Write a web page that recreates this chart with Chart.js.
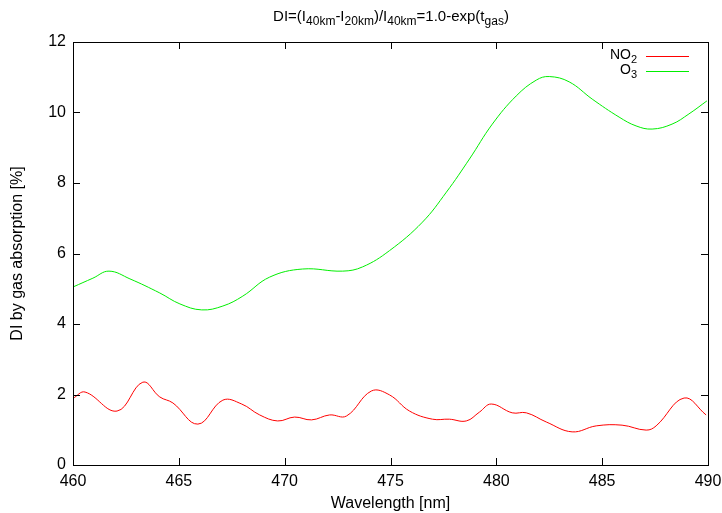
<!DOCTYPE html>
<html>
<head>
<meta charset="utf-8">
<script src="https://cdn.jsdelivr.net/npm/chart.js@4/dist/chart.umd.min.js"></script>
<style>
  body { margin: 0; background: #fff; font-family: "Liberation Sans", Arial, sans-serif; }
  #wrap { position: relative; width: 722px; height: 513px; }
  #title { position: absolute; left: 0; width: 782px; top: 7px; text-align: center; font-size: 15px; color: #000; }
  #title sub { font-size: 12px; vertical-align: -4px; line-height: 0; }
  .key { position: absolute; right: 85px; font-size: 14px; color: #000; text-align: right; line-height: 16px; }
  .key sub { font-size: 11px; vertical-align: -4px; line-height: 0; }
  .swatch { position: absolute; left: 646px; width: 43px; height: 1px; }
</style>
</head>
<body>
<div id="wrap">
  <canvas id="chart" width="722" height="513"></canvas>
  <div id="title">DI=(I<sub>40km</sub>-I<sub>20km</sub>)/I<sub>40km</sub>=1.0-exp(t<sub>gas</sub>)</div>
  <div class="key" style="top:46px">NO<sub>2</sub></div>
  <div class="swatch" style="top:56px;background:#ff0000"></div>
  <div class="key" style="top:61px">O<sub>3</sub></div>
  <div class="swatch" style="top:71px;background:#00ee00"></div>
</div>
<script>
// values
const no2Wavelength = [460.0, 460.57, 462.08, 463.30, 464.10, 464.72, 465.90, 467.08, 467.97, 468.82,
  469.67, 470.47, 471.27, 472.12, 472.92, 474.10, 474.95, 475.90, 476.98, 477.78, 478.58, 479.20,
  479.76, 480.75, 481.42, 482.36, 483.58, 484.72, 485.94, 487.08, 487.55, 488.87, 489.91];
const no2Values = [1.89, 2.07, 1.53, 2.35, 1.93, 1.76, 1.16, 1.84, 1.73, 1.42,
  1.25, 1.36, 1.28, 1.42, 1.39, 2.10, 1.99, 1.53, 1.30, 1.30, 1.25, 1.50,
  1.73, 1.48, 1.48, 1.22, 0.94, 1.11, 1.13, 0.99, 1.11, 1.90, 1.42];

const o3Wavelength = [460.0, 460.94, 461.70, 462.69, 464.10, 465.05, 466.08, 467.08, 468.02, 469.29,
  470.85, 472.74, 473.68, 474.95, 476.51, 477.64, 478.73, 479.81, 480.94, 481.89, 482.50,
  483.44, 484.53, 485.80, 486.60, 487.36, 488.30, 489.10, 489.95];
const o3Values = [5.05, 5.30, 5.50, 5.28, 4.88, 4.57, 4.40, 4.51, 4.79, 5.33,
  5.56, 5.50, 5.62, 6.08, 6.89, 7.74, 8.68, 9.67, 10.47, 10.92, 11.02,
  10.87, 10.38, 9.87, 9.62, 9.53, 9.67, 9.96, 10.33];

const xRange = [460, 490];
const xStep = 5;
const yRange = [0, 12];
const yStep = 2;

function toPoints(xs, ys) {
  return xs.map(function(x, i) { return { x: x, y: ys[i] }; });
}

// gnuplot style box with inward ticks on all four sides
const frameTicks = {
  id: 'frameTicks',
  afterDatasetsDraw: function(chart) {
    const ctx = chart.ctx;
    const a = chart.chartArea;
    const x = chart.scales.x;
    const y = chart.scales.y;
    const len = 7;
    ctx.save();
    ctx.strokeStyle = '#000';
    ctx.lineWidth = 1;
    ctx.beginPath();
    x.ticks.forEach(function(t) {
      const px = Math.round(x.getPixelForValue(t.value)) + 0.5;
      ctx.moveTo(px, a.bottom); ctx.lineTo(px, a.bottom - len);
      ctx.moveTo(px, a.top); ctx.lineTo(px, a.top + len);
    });
    y.ticks.forEach(function(t) {
      const py = Math.round(y.getPixelForValue(t.value)) + 0.5;
      ctx.moveTo(a.left, py); ctx.lineTo(a.left + len, py);
      ctx.moveTo(a.right, py); ctx.lineTo(a.right - len, py);
    });
    ctx.stroke();
    ctx.strokeRect(Math.round(a.left) + 0.5, Math.round(a.top) + 0.5,
      Math.round(a.right - a.left), Math.round(a.bottom - a.top));
    ctx.restore();
  }
};

const tickFont = { family: '"Liberation Sans", Arial, sans-serif', size: 16 };

new Chart(document.getElementById('chart'), {
  type: 'line',
  data: {
    datasets: [
      {
        label: 'NO2',
        data: toPoints(no2Wavelength, no2Values),
        borderColor: '#ff0000',
        borderWidth: 1,
        pointRadius: 0,
        tension: 0.4,
        fill: false
      },
      {
        label: 'O3',
        data: toPoints(o3Wavelength, o3Values),
        borderColor: '#00ee00',
        borderWidth: 1,
        pointRadius: 0,
        tension: 0.4,
        fill: false
      }
    ]
  },
  options: {
    responsive: false,
    animation: false,
    layout: { padding: { top: 42, right: 14, left: 0, bottom: 0 } },
    plugins: {
      legend: { display: false },
      tooltip: { enabled: false }
    },
    scales: {
      x: {
        type: 'linear',
        min: xRange[0],
        max: xRange[1],
        grid: { display: false, drawTicks: false },
        border: { display: false },
        ticks: { stepSize: xStep, color: '#000', font: tickFont, padding: 7, maxRotation: 0 },
        title: { display: true, text: 'Wavelength [nm]', color: '#000', font: tickFont, padding: { top: 0, bottom: 0 } },
        afterFit: function(scale) {
          scale.height = 48;
          scale.paddingLeft = 0;
          scale.paddingRight = 0;
        }
      },
      y: {
        type: 'linear',
        min: yRange[0],
        max: yRange[1],
        grid: { display: false, drawTicks: false },
        border: { display: false },
        ticks: { stepSize: yStep, color: '#000', font: tickFont, padding: 7 },
        title: { display: true, text: 'DI by gas absorption [%]', color: '#000', font: tickFont, padding: { top: 8, bottom: 0 } },
        afterFit: function(scale) {
          scale.width = 73;
          scale.paddingTop = 0;
          scale.paddingBottom = 0;
        }
      }
    }
  },
  plugins: [frameTicks]
});
</script>
</body>
</html>
